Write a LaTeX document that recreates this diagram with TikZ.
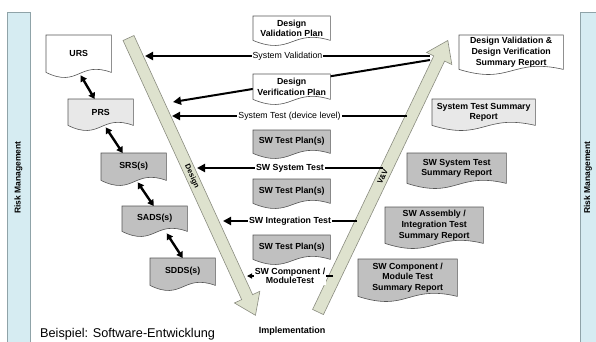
\documentclass[tikz,border=0pt]{standalone}
\usepackage{fontspec}
\setmainfont{Liberation Sans}
\usetikzlibrary{arrows.meta,calc}
\pgfdeclarelayer{bars}\pgfdeclarelayer{bands}\pgfdeclarelayer{lines}\pgfdeclarelayer{docs}
\pgfsetlayers{bars,bands,lines,docs,main}
\definecolor{riskfill}{HTML}{D6ECF2}
\definecolor{riskline}{HTML}{8FA3A8}
\definecolor{bandfill}{HTML}{DEE2CE}
\definecolor{bandline}{HTML}{8A8C80}
\definecolor{docline}{HTML}{555555}
\definecolor{lightdoc}{HTML}{E8E8E8}
\definecolor{darkdoc}{HTML}{C0C0C0}
\newcommand\docoutline[2]{%
  \begin{pgfonlayer}{docs}
  \path[draw=docline, line width=0.6pt, fill=#2] (#1.north west) -- (#1.north east) -- (#1.south east)
    .. controls ($(#1.south)+(0,-12)$) and ($(#1.south)+(0,16)$) .. (#1.south west) -- cycle;
  \end{pgfonlayer}}
\tikzset{
  doc/.style={inner sep=0pt, anchor=north west, align=center, font=\fontsize{8.8}{10.6}\selectfont\bfseries},
  conn/.style={line width=2pt, -{Triangle[length=8pt,width=8pt]}},
  lbl/.style={fill=white, inner sep=1pt, font=\fontsize{8.8}{10.6}\selectfont},
  blbl/.style={fill=white, inner sep=1pt, align=center, font=\fontsize{8.8}{9.6}\selectfont\bfseries},
  dbl/.style={line width=2.4pt, {Triangle[length=6pt,width=7pt]}-{Triangle[length=6pt,width=7pt]}},
  riskbar/.style={draw=riskline, fill=riskfill, line width=0.6pt, rotate=90, inner sep=0pt,
    font=\fontsize{8.5}{10}\selectfont\bfseries},
  band/.style={draw=bandline, fill=bandfill, line width=0.6pt},
  bandtext/.style={font=\fontsize{7.5}{9}\selectfont\bfseries, inner sep=0pt},
}
\begin{document}
\begin{tikzpicture}[x=1pt, y=-1pt]
\useasboundingbox (0,0) rectangle (596,341);
% risk management bars
\begin{pgfonlayer}{bars}
\node[riskbar, minimum width=331pt, minimum height=23pt] (rmL) at (18.5,177.5) {Risk Management};
\node[riskbar, minimum width=331pt, minimum height=16pt] (rmR) at (588,177.5) {Risk Management};
\end{pgfonlayer}
% V bands
\begin{pgfonlayer}{bands}
\begin{scope}[shift={(128.5,38)}, rotate=-65.4]
  \path[band] (0,-6) -- (285,-6) -- (285,-14) -- (305,0) -- (285,14) -- (285,6) -- (0,6) -- cycle;
  \node[bandtext, rotate=-65.4] (design) at (152,0) {Design};
\end{scope}
\begin{scope}[shift={(318,312)}, rotate=64.45]
  \path[band] (0,-6) -- (281,-6) -- (281,-14) -- (301,0) -- (281,14) -- (281,6) -- (0,6) -- cycle;
  \node[bandtext, rotate=64.45] (vv) at (150,0) {V\&V};
\end{scope}
\end{pgfonlayer}
% documents, left
\node[doc, minimum width=65pt, minimum height=37pt] (URS) at (46,35) {URS};
\node[doc, minimum width=65pt, minimum height=26pt] (PRS) at (68,99) {PRS};
\node[doc, minimum width=65pt, minimum height=27pt] (SRS) at (101,153) {SRS(s)};
\node[doc, minimum width=65pt, minimum height=25pt] (SADS) at (122,206) {SADS(s)};
\node[doc, minimum width=65pt, minimum height=27pt] (SDDS) at (150,258) {SDDS(s)};
\docoutline{URS}{white}
\docoutline{PRS}{lightdoc}
\docoutline{SRS}{darkdoc}
\docoutline{SADS}{darkdoc}
\docoutline{SDDS}{darkdoc}
% documents, middle
\node[doc, minimum width=77pt, minimum height=24pt] (DVP) at (253,16) {Design\\Validation Plan};
\node[doc, minimum width=77pt, minimum height=25pt] (DVeP) at (253,74) {Design\\Verification Plan};
\node[doc, minimum width=77pt, minimum height=23pt] (STP1) at (253,130) {SW Test Plan(s)};
\node[doc, minimum width=77pt, minimum height=24pt] (STP2) at (253,179) {SW Test Plan(s)};
\node[doc, minimum width=77pt, minimum height=24pt] (STP3) at (253,235) {SW Test Plan(s)};
\docoutline{DVP}{white}
\docoutline{DVeP}{white}
\docoutline{STP1}{darkdoc}
\docoutline{STP2}{darkdoc}
\docoutline{STP3}{darkdoc}
% documents, right
\node[doc, minimum width=104pt, minimum height=34pt] (DVSR) at (459,35) {Design Validation \&\\Design Verification\\Summary Report};
\node[doc, minimum width=103pt, minimum height=26pt] (STSR) at (432,99) {System Test Summary\\Report};
\node[doc, minimum width=99pt, minimum height=30pt] (SWSTSR) at (407,153) {SW System Test\\Summary Report};
\node[doc, minimum width=98pt, minimum height=36pt] (SWASR) at (385,207) {SW Assembly /\\Integration Test\\Summary Report};
\node[doc, minimum width=99pt, minimum height=37pt] (SWCSR) at (358,259) {SW Component /\\Module Test\\Summary Report};
\docoutline{DVSR}{white}
\docoutline{STSR}{lightdoc}
\docoutline{SWSTSR}{darkdoc}
\docoutline{SWASR}{darkdoc}
\docoutline{SWCSR}{darkdoc}
% connector ends
\coordinate (vv1) at (430,56);
\coordinate (vv2) at (430,60);
\coordinate (vv3) at (407,116);
\coordinate (vv4) at (383,168);
\coordinate (vv5) at (357,221);
\coordinate (vv6) at (333,276);
\coordinate (dd1) at (145,56);
\coordinate (dd2) at (173,102);
\coordinate (dd3) at (172,116);
\coordinate (dd4) at (197,168);
\coordinate (dd5) at (223,221);
\coordinate (dd6) at (247,276);
\begin{pgfonlayer}{lines}
\draw[conn] (vv1) -- (dd1) node[lbl, midway] (l1) {System Validation};
\draw[conn] (vv2) -- (dd2);
\draw[conn] (vv3) -- (dd3) node[lbl, midway] (l3) {System Test (device level)};
\draw[conn] (vv4) -- (dd4) node[blbl, midway] (l4) {SW System Test};
\draw[conn] (vv5) -- (dd5) node[blbl, midway] (l5) {SW Integration Test};
\draw[line width=2pt, -{Triangle[length=5pt,width=5pt]}] (vv6) -- (dd6) node[blbl, midway] (l6) {SW Component /\\ModuleTest};
\end{pgfonlayer}
% double arrows
\draw[dbl] ($(URS.south)+(2,3)$) -- ($(PRS.north)+(-6,0)$);
\draw[dbl] ($(PRS.south)+(5,2)$) -- ($(SRS.north)+(-11,0)$);
\draw[dbl] ($(SRS.south)+(4,2)$) -- ($(SADS.north)+(-1,0)$);
\draw[dbl] ($(SADS.south)+(12,2)$) -- (SDDS.north);
% texts
\node[font=\fontsize{12.7}{14}\selectfont, anchor=base west, inner sep=0pt] (ex) at (40,337) {Beispiel: Software-Entwicklung};
\node[font=\fontsize{9}{10}\selectfont\bfseries, inner sep=0pt] (impl) at (292,331) {Implementation};
\end{tikzpicture}
\end{document}
